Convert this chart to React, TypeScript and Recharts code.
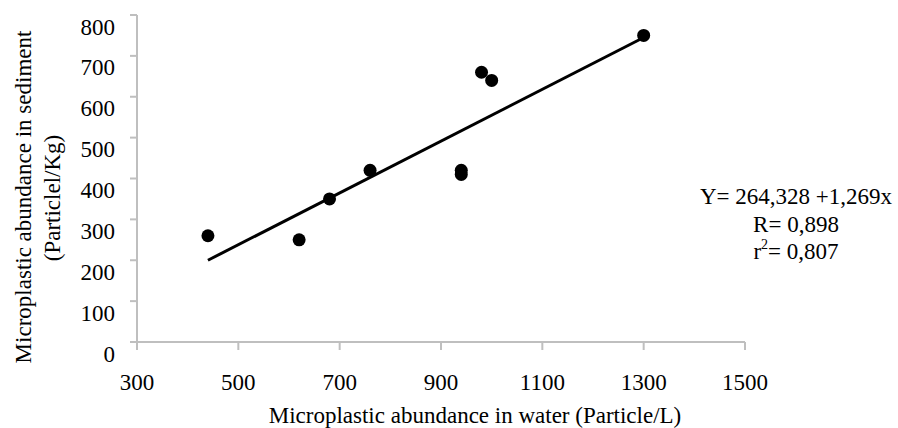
import { ScatterChart, Scatter, XAxis, YAxis } from 'recharts'

// water (Particle/L) vs sediment (Particlel/Kg)
const waterValues = [440, 620, 680, 760, 940, 940, 980, 1000, 1300]
const sedimentValues = [260, 250, 350, 420, 420, 410, 660, 640, 750]

// fitted line end points, as drawn
const fitX = [440, 1300]
const fitY = [200, 745]

const xTicks = [300, 500, 700, 900, 1100, 1300, 1500]
const yTicks = [0, 100, 200, 300, 400, 500, 600, 700, 800]

const FONT = '"Liberation Serif", "Times New Roman", serif'
const AXIS = '#bfbfbf'

const points = waterValues.map((x, i) => ({ x, y: sedimentValues[i] }))
const fitLine = fitX.map((x, i) => ({ x, y: fitY[i] }))

function Dot(props: any) {
  return <circle cx={props.cx} cy={props.cy} r={6.5} fill="#000" />
}

function NoDot() {
  return <g />
}

function XTick({ x, y, payload }: any) {
  return (
    <text x={x} y={y + 32} textAnchor="middle" dominantBaseline="central"
      fontFamily={FONT} fontSize={23} fill="#000">
      {payload.value}
    </text>
  )
}

function YTick({ x, y, payload }: any) {
  return (
    <text x={x} y={y + 12} textAnchor="end" dominantBaseline="central"
      fontFamily={FONT} fontSize={23} fill="#000">
      {payload.value}
    </text>
  )
}

function YLabel() {
  return (
    <g fontFamily={FONT} fontSize={23} fill="#000">
      <text x={23} y={197} textAnchor="middle" dominantBaseline="central" transform="rotate(-90 23 197)">
        Microplastic abundance in sediment
      </text>
      <text x={52} y={198} textAnchor="middle" dominantBaseline="central" transform="rotate(-90 52 198)">
        (Particlel/Kg)
      </text>
    </g>
  )
}

function XLabel() {
  return (
    <text x={475} y={415} textAnchor="middle" dominantBaseline="central"
      fontFamily={FONT} fontSize={23} fill="#000">
      Microplastic abundance in water (Particle/L)
    </text>
  )
}

export default function App() {
  const axisStyle = { stroke: AXIS, strokeWidth: 2 }
  return (
    <div style={{ position: 'absolute', left: 0, top: 0, width: 898, height: 428, background: '#fff' }}>
      <ScatterChart width={898} height={428} margin={{ top: 15, right: 153, left: 0, bottom: 0 }}>
        <XAxis type="number" dataKey="x" domain={[300, 1500]} ticks={xTicks}
          height={86} axisLine={axisStyle} tickLine={axisStyle} tickSize={8} tickMargin={0}
          tick={<XTick />} label={<XLabel />} />
        <YAxis type="number" dataKey="y" domain={[0, 800]} ticks={yTicks}
          width={137} axisLine={axisStyle} tickLine={axisStyle} tickSize={7} tickMargin={15}
          tick={<YTick />} label={<YLabel />} />
        <Scatter data={fitLine} line={{ stroke: '#000', strokeWidth: 3 }} shape={<NoDot />}
          isAnimationActive={false} />
        <Scatter data={points} shape={<Dot />} isAnimationActive={false} />
      </ScatterChart>
      <div style={{
        position: 'absolute', left: 696, top: 183, width: 200, textAlign: 'center',
        fontFamily: FONT, fontSize: 23, lineHeight: '27.5px', color: '#000',
      }}>
        <div>Y= 264,328 +1,269x</div>
        <div>R= 0,898</div>
        <div>r<sup style={{ fontSize: 14, verticalAlign: 'top', lineHeight: '14px' }}>2</sup>= 0,807</div>
      </div>
    </div>
  )
}
